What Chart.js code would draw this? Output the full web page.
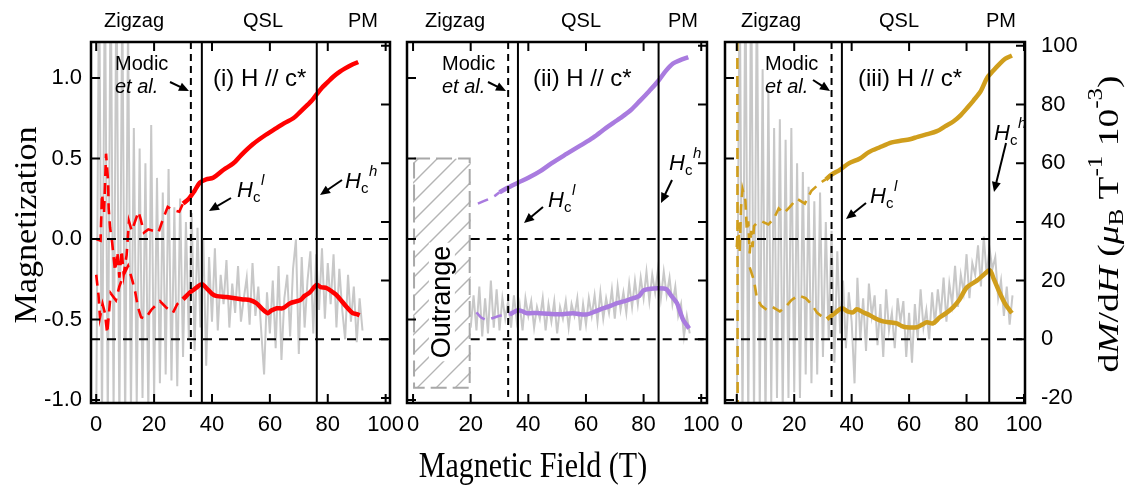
<!DOCTYPE html>
<html>
<head>
<meta charset="utf-8">
<script src="https://cdn.jsdelivr.net/npm/chart.js@4.4.0/dist/chart.umd.min.js"></script>
<style>
html, body { margin: 0; padding: 0; background: #fff; }
#wrap { position: relative; width: 1130px; height: 492px; }
#wrap canvas { position: absolute; left: 0; top: 0; }
</style>
</head>
<body>
<div id="wrap">
  <canvas id="chartP1" width="1130" height="492"></canvas>
  <canvas id="chartP2" width="1130" height="492"></canvas>
  <canvas id="chartP3" width="1130" height="492"></canvas>
</div>
<script>
// tick values
var fieldTicks = [0, 20, 40, 60, 80, 100];
var magTicks = [-1.0, -0.5, 0.0, 0.5, 1.0];
var dmdhTicks = [-20, 0, 20, 40, 60, 80, 100];

// vertical markers (T), one per panel
var modicField = [32.7, 33.0, 33.0];
var hcLowField = [36.5, 36.4, 36.6];
var hcHighField = [76.2, 85.2, 87.9];

// region labels
var regionNames = ["Zigzag", "QSL", "PM"];
var panelTags = ["(i) H // c*", "(ii) H // c*", "(iii) H // c*"];

// (i) red
var magLow1 = [[0, 0.0], [1.5, -0.01], [2, 0.28], [2.7, 0.16], [3.4, 0.53], [4.1, 0.36], [4.3, 0.19], [4.8, 0.07],
    [5.5, -0.02], [6.5, -0.2], [7.3, -0.08], [8, -0.24], [8.8, -0.07], [9.5, -0.22], [10.5, -0.1], [11.3, 0.11],
    [12.3, 0.05], [14.6, 0.17], [15.4, 0.12], [16.5, 0.04], [18, 0.06], [20, 0.05], [21.5, 0.04], [23, 0.12],
    [24.7, 0.2], [26.5, 0.18], [28.7, 0.17], [30, 0.22]];
var mag1 = [[30, 0.22], [32, 0.25], [34, 0.3], [35.8, 0.35], [38, 0.37], [40.4, 0.38], [44, 0.43], [47.4, 0.47],
    [50, 0.52], [54.2, 0.59], [58, 0.64], [62.4, 0.69], [65, 0.72], [68.1, 0.75], [70.5, 0.79], [72.8, 0.83],
    [74.5, 0.86], [76.2, 0.9], [78, 0.94], [79.7, 0.97], [82, 1.01], [84.2, 1.04], [86, 1.06], [88, 1.08], [90.5, 1.1]];
var dmdhLow1 = [[0, 22], [0.8, 15], [1.3, 7.5], [2.2, 12], [3, 9], [3.8, 2], [5, 15.7], [6.8, 13.3], [8, 18],
    [9.5, 22], [11, 25], [12.5, 20], [13.5, 16], [14.4, 11], [15.5, 7.5], [17, 7], [19, 10], [22, 13], [24, 11],
    [26.5, 9], [28, 12], [30, 13.6]];
var dmdh1 = [[30, 13.6], [32.4, 16], [34.5, 17.5], [36.5, 18.8], [38.5, 17], [40, 15.5], [41.7, 14.7], [45, 14.4],
    [50.7, 13.6], [53, 13.4], [55.4, 12.3], [57.5, 10.2], [59.3, 8.9], [60.5, 9.8], [62.4, 10.6], [64.5, 10.6],
    [67, 12.3], [70.4, 13.3], [72, 14.8], [73.8, 16], [76.2, 18.6], [77.5, 17.8], [79.7, 17.4], [81.5, 16.2],
    [83.1, 15], [85, 12.8], [86.6, 10.9], [88.6, 8.9], [90, 8.6], [91, 8.2]];
var dmdhRaw1 = [[0, -30], [1, 130], [2, -30], [3, 130], [4, -30], [5, 130], [6, -25], [7, 130], [8, -30], [9, 120],
    [10, -30], [11, 110], [12, -25], [13, 72], [14, -22], [15, 65], [16, -20], [17, 60], [18, -25], [19, 73],
    [20, -20], [21, 55], [22, -15], [23, 50], [24, -12], [25, 58], [26, -14], [27, 45], [28, -16], [29, 48],
    [30, -6], [31, 40], [32, 0], [33, 43], [34, -4], [35, 38], [36, 4], [37, 34], [38, -9], [39, 28],
    [40, 6], [41, 31], [42, 3], [43, 22], [44, 12], [45, 27], [46, 4], [47, 19], [48, 9], [49, 25],
    [50, 6], [51, 14], [52, 21], [53, 5], [54, 26], [55, 8], [56, 18], [57, 3], [58, -12], [59, 16],
    [60, 2], [61, 20], [62, -3], [63, 25], [64, -7], [65, 14], [66, 22], [67, 1], [68, 24], [69, 34],
    [70, -5], [71, 28], [72, 4], [73, 20], [74, 30], [75, 2], [76, 29], [77, 10], [78, 31], [79, 7],
    [80, 26], [81, 12], [82, 29], [83, 4], [84, 24], [85, 10], [86, 0], [87, 22], [88, 6], [89, 18],
    [90, -1], [91, 14], [92, 3]];

// (ii) purple
var magLow2 = [[22.5, 0.22], [24.5, 0.235], [26.5, 0.25], [28.5, 0.27], [30, 0.29]];
var mag2 = [[30, 0.29], [33, 0.32], [36.4, 0.35], [40, 0.38], [44, 0.42], [48, 0.47], [53.4, 0.53], [58, 0.58],
    [62.5, 0.63], [67, 0.69], [71.8, 0.75], [75.5, 0.8], [78.8, 0.86], [82, 0.92], [85, 0.98], [87.5, 1.04],
    [90.2, 1.09], [92.5, 1.11], [95.5, 1.13]];
var dmdhLow2 = [[22, 9.2], [23.5, 7.5], [25.5, 6.5], [27.5, 7.2], [30, 8], [33.5, 8.5]];
var dmdh2 = [[33.5, 8.5], [36.4, 9.9], [38, 9.5], [39.5, 8.9], [43, 9], [47, 8.7], [51, 8.5], [55.5, 8.9],
    [58, 8.5], [60.4, 8.5], [63, 9.4], [65, 10.2], [68, 11.2], [70.8, 12.3], [74, 13.2], [76.5, 14], [78.5, 14.8],
    [80, 16.7], [82.5, 17.2], [84.7, 17.4], [87, 17.3], [88, 17], [89.5, 15], [91.6, 12.3], [92.8, 9],
    [93.8, 6.5], [95.8, 3.7]];
var dmdhRaw2 = [[20, 4], [21, 15], [22, 3], [23, 18], [24, 1], [25, 14], [26, 2], [27, 20], [28, 4], [29, 17],
    [30, 3], [31, 14], [32, 7], [33, 13], [34, 4], [35, 15], [36, 6], [37, 12], [38, 3], [39, 14],
    [40, 8], [41, 13], [42, 4], [43, 11], [44, 7], [45, 14], [46, 3], [47, 12], [48, 6], [49, 13],
    [50, 2], [51, 11], [52, 7], [53, 13], [54, 4], [55, 12], [56, 8], [57, 14], [58, 3], [59, 12],
    [60, 5], [61, 14], [62, 8], [63, 15], [64, 6], [65, 16], [66, 7], [67, 14], [68, 9], [69, 17],
    [70, 7], [71, 18], [72, 10], [73, 16], [74, 9], [75, 19], [76, 11], [77, 20], [78, 12], [79, 21],
    [80, 14], [81, 23], [82, 13], [83, 22], [84, 16], [85, 24], [86, 14], [87, 23], [88, 15], [89, 21],
    [90, 12], [91, 18], [92, 8], [93, 12], [94, 1], [95, 8], [96, 2]];

// (iii) gold
var magLow3 = [[0, -0.05], [0.5, 0.1], [1, -0.08], [1.5, 0.2], [2, 0.31], [3, 0.24], [3.5, 0.05], [4, 0.11],
    [4.5, -0.09], [5, 0.05], [5.5, -0.05], [6, 0.08], [7, 0.1], [8.7, 0.11], [11, 0.09], [13, 0.13], [14.6, 0.19],
    [16.4, 0.16], [18.5, 0.2], [20.9, 0.25], [23.7, 0.22], [26, 0.3], [27.9, 0.33], [30, 0.36], [31, 0.37]];
var mag3 = [[31, 0.37], [33, 0.4], [35.9, 0.43], [39, 0.47], [42.9, 0.5], [46, 0.54], [49.8, 0.57], [54, 0.6],
    [57, 0.61], [60.3, 0.62], [63, 0.635], [66, 0.65], [69.7, 0.67], [72.5, 0.7], [75.4, 0.73], [78, 0.77],
    [80.5, 0.82], [82.4, 0.86], [85, 0.92], [87.1, 1.0], [89, 1.04], [91.6, 1.09], [93.5, 1.12], [95.8, 1.14]];
var dmdhLow3 = [[0.2, 102], [0.3, -22], [1, null], [4.5, 24.5], [6, 20], [7, 14], [8.5, 11.5], [10.5, 10],
    [12.5, 11], [15, 9.5], [17, 11], [19, 13.3], [21.5, 15], [24, 14], [26, 12], [28, 9], [30, 7.5], [31.4, 6.8]];
var dmdh3 = [[31.4, 6.8], [34, 8.8], [36.6, 10.6], [38.5, 9.5], [40.5, 9.2], [41.8, 10.2], [44, 9.2], [46.3, 8.2],
    [48.5, 7], [50.9, 6.1], [53, 5.8], [55.7, 5.4], [57.5, 4.5], [59.2, 4.1], [62.7, 4.1], [64.5, 5], [66.2, 5.8],
    [68.3, 5.4], [70.7, 7.5], [73, 9], [75.3, 10.9], [77.5, 13.5], [80.1, 17.7], [83.6, 20], [86, 22], [88.1, 23.5],
    [89.5, 20.5], [91.6, 15.7], [93.5, 12], [95.8, 8.9]];
var dmdhRaw3 = [[0, -30], [1, 130], [2, -30], [3, 130], [4, -30], [5, 130], [6, -28], [7, 125], [8, -25], [9, 92],
    [10, -30], [11, 85], [12, -22], [13, 72], [14, -20], [15, 75], [16, -25], [17, 68], [18, -20], [19, 72],
    [20, -18], [21, 60], [22, -20], [23, 57], [24, -12], [25, 52], [26, -15], [27, 47], [28, -12], [29, 50],
    [30, -6], [31, 40], [32, 0], [33, 37], [34, -8], [35, 30], [36, 2], [37, 20], [38, -3], [39, 16],
    [40, 6], [41, -15], [42, 21], [43, 0], [44, 14], [45, -4], [46, 19], [47, 8], [48, 15], [49, -2],
    [50, 12], [51, -6], [52, 17], [53, 3], [54, 9], [55, -3], [56, 14], [57, 6], [58, 13], [59, -6],
    [60, 9], [61, -8], [62, 12], [63, 0], [64, 17], [65, 4], [66, 10], [67, 0], [68, 16], [69, 5],
    [70, 17], [71, 8], [72, 21], [73, 6], [74, 19], [75, 12], [76, 25], [77, 11], [78, 22], [79, 16],
    [80, 29], [81, 14], [82, 26], [83, 22], [84, 32], [85, 18], [86, 35], [87, 22], [88, 31], [89, 24],
    [90, 28], [91, 14], [92, 20], [93, 8], [94, 18], [95, 5], [96, 15]];

// hatched "Outrange" block in panel (ii)
var outrangeField = [0, 20];
var outrangeMag = [-0.925, 0.5];

// page layout (pixels)
var PAGE_W = 1130, AREA_TOP = 42, AREA_BOTTOM = 403;
var SANS = '"Liberation Sans"', SERIF = '"Liberation Serif"';

var panels = [
    { id: "chartP1", color: "#ff0000", xMin: -1.8, xMax: 101.5, left: 91, right: 390, showMag: true, showDmdh: false,
      series: [magLow1, mag1, dmdhLow1, dmdh1, dmdhRaw1],
      regionX: [134, 263, 363], modic: [115, 170, 82, 189, 91], tagX: 213,
      hcl: [237, 197, 231, 198, 209, 211], hch: [345, 188, 342, 180, 320, 195] },
    { id: "chartP2", color: "#a97bdf", xMin: -2.1, xMax: 102, left: 407, right: 707, showMag: false, showDmdh: false,
      series: [magLow2, mag2, dmdhLow2, dmdh2, dmdhRaw2], refStart: 20,
      regionX: [455, 581, 683], modic: [442, 488, 82, 506, 91], tagX: 533,
      hcl: [548, 207, 543, 207, 524, 223], hch: [669, 170, 672, 180, 661, 203] },
    { id: "chartP3", color: "#d09e1c", xMin: -4.1, xMax: 100.35, left: 725, right: 1025, showMag: false, showDmdh: true,
      series: [magLow3, mag3, dmdhLow3, dmdh3, dmdhRaw3],
      regionX: [771, 899, 1001], modic: [765, 813, 80, 830, 91], tagX: 858,
      hcl: [870, 203, 866, 203, 846, 219], hch: [994, 140, 1006, 143, 994, 192] }
];

function toPoints(arr) {
    return arr.map(function (p) { return { x: p[0], y: p[1] }; });
}

function fixedTicks(list) {
    return function (scale) {
        scale.ticks = list.map(function (v) { return { value: v }; });
    };
}

function arrow(ctx, x1, y1, x2, y2) {
    var a = Math.atan2(y2 - y1, x2 - x1), h = 10, w = 4.5;
    var c = Math.cos(a), s = Math.sin(a);
    ctx.beginPath();
    ctx.moveTo(x1, y1);
    ctx.lineTo(x2 - h * 0.8 * c, y2 - h * 0.8 * s);
    ctx.stroke();
    ctx.beginPath();
    ctx.moveTo(x2, y2);
    ctx.lineTo(x2 - h * c + w * s, y2 - h * s - w * c);
    ctx.lineTo(x2 - h * c - w * s, y2 - h * s + w * c);
    ctx.closePath();
    ctx.fill();
}

function hcLabel(ctx, x, y, sup) {
    ctx.textAlign = "left";
    ctx.textBaseline = "alphabetic";
    ctx.font = "italic 22px " + SANS;
    ctx.fillText("H", x, y);
    var w = ctx.measureText("H").width;
    ctx.font = "15px " + SANS;
    ctx.fillText("c", x + w, y + 5);
    ctx.font = "italic 15px " + SANS;
    ctx.fillText(sup, x + w + 8, y - 12);
}

// rich text drawn along a rotated baseline, centred on (cx, cy)
function richText(ctx, parts, cx, cy, rot, stretch) {
    var total = 0;
    parts.forEach(function (p) { ctx.font = p.f; p.w = ctx.measureText(p.t).width; total += p.w; });
    ctx.save();
    ctx.translate(cx, cy);
    ctx.rotate(rot);
    ctx.scale(stretch, 1);
    ctx.textAlign = "left";
    ctx.textBaseline = "middle";
    var x = -total / 2;
    parts.forEach(function (p) {
        ctx.font = p.f;
        ctx.fillText(p.t, x, p.dy || 0);
        x += p.w;
    });
    ctx.restore();
}

var panelDecor = {
    id: "panelDecor",
    beforeDatasetsDraw: function (chart) {
        var p = chart.config.options.panel;
        if (p.index !== 1) return;
        var ctx = chart.ctx, sx = chart.scales.x, sy = chart.scales.y;
        var x0 = sx.getPixelForValue(outrangeField[0]), x1 = sx.getPixelForValue(outrangeField[1]);
        var y0 = sy.getPixelForValue(outrangeMag[1]), y1 = sy.getPixelForValue(outrangeMag[0]);
        ctx.save();
        ctx.beginPath();
        ctx.rect(x0, y0, x1 - x0, y1 - y0);
        ctx.clip();
        ctx.strokeStyle = "#b4b4b4";
        ctx.lineWidth = 1.4;
        for (var k = -300; k < 120; k += 19) {
            ctx.beginPath();
            ctx.moveTo(x0 + k, y1);
            ctx.lineTo(x0 + k + (y1 - y0), y0);
            ctx.stroke();
        }
        ctx.restore();
        ctx.save();
        ctx.strokeStyle = "#a8a8a8";
        ctx.lineWidth = 2;
        ctx.setLineDash([16, 6]);
        ctx.strokeRect(x0 + 1, y0, x1 - x0 - 2, y1 - y0);
        ctx.setLineDash([]);
        ctx.translate((x0 + x1) / 2, 302);
        ctx.rotate(-Math.PI / 2);
        ctx.font = "27px " + SANS;
        var tw = ctx.measureText("Outrange").width;
        ctx.fillStyle = "#fff";
        ctx.fillRect(-tw / 2 - 3, -13, tw + 6, 26);
        ctx.fillStyle = "#000";
        ctx.textAlign = "center";
        ctx.textBaseline = "middle";
        ctx.fillText("Outrange", 0, 1);
        ctx.restore();
    },
    afterDatasetsDraw: function (chart) {
        var p = chart.config.options.panel;
        var ctx = chart.ctx, a = chart.chartArea, sx = chart.scales.x;
        var i = p.index;
        ctx.save();
        ctx.strokeStyle = "#000";
        ctx.lineWidth = 2;
        ctx.setLineDash([9, 7]);
        var hx0 = p.refStart != null ? sx.getPixelForValue(p.refStart) : a.left;
        [chart.scales.y.getPixelForValue(0), chart.scales.y2.getPixelForValue(0)].forEach(function (yy) {
            ctx.beginPath(); ctx.moveTo(hx0, yy); ctx.lineTo(a.right, yy); ctx.stroke();
        });
        ctx.setLineDash([7, 5]);
        var xm = sx.getPixelForValue(modicField[i]);
        ctx.beginPath(); ctx.moveTo(xm, a.top); ctx.lineTo(xm, a.bottom); ctx.stroke();
        ctx.setLineDash([]);
        [hcLowField[i], hcHighField[i]].forEach(function (v) {
            var xx = sx.getPixelForValue(v);
            ctx.beginPath(); ctx.moveTo(xx, a.top); ctx.lineTo(xx, a.bottom); ctx.stroke();
        });
        ctx.restore();
    },
    afterDraw: function (chart) {
        var p = chart.config.options.panel;
        var ctx = chart.ctx, a = chart.chartArea;
        var sx = chart.scales.x, sy = chart.scales.y, sd = chart.scales.y2;
        ctx.save();
        // frame and inward ticks
        ctx.strokeStyle = "#000";
        ctx.fillStyle = "#000";
        ctx.lineWidth = 2.5;
        ctx.strokeRect(a.left, a.top, a.right - a.left, a.bottom - a.top);
        ctx.lineWidth = 2;
        var tl = 9;
        ctx.beginPath();
        fieldTicks.forEach(function (v) {
            var x = sx.getPixelForValue(v);
            ctx.moveTo(x, a.bottom); ctx.lineTo(x, a.bottom - tl);
            ctx.moveTo(x, a.top); ctx.lineTo(x, a.top + tl);
        });
        magTicks.forEach(function (v) {
            var y = sy.getPixelForValue(v);
            ctx.moveTo(a.left, y); ctx.lineTo(a.left + tl, y);
        });
        dmdhTicks.forEach(function (v) {
            var y = sd.getPixelForValue(v);
            ctx.moveTo(a.right, y); ctx.lineTo(a.right - tl, y);
        });
        ctx.stroke();

        // region names
        ctx.font = "20px " + SANS;
        ctx.textAlign = "center";
        ctx.textBaseline = "alphabetic";
        regionNames.forEach(function (t, k) { ctx.fillText(t, p.regionX[k], 27); });

        // Modic et al.
        var m = p.modic;
        ctx.textAlign = "left";
        ctx.font = "20px " + SANS;
        ctx.fillText("Modic", m[0], 70);
        ctx.font = "italic 20px " + SANS;
        ctx.fillText("et al.", m[0], 93);
        ctx.lineWidth = 2;
        arrow(ctx, m[1], m[2], m[3], m[4]);

        // panel tag
        ctx.font = "24px " + SANS;
        ctx.fillText(panelTags[p.index], p.tagX, 86);

        // critical field labels
        hcLabel(ctx, p.hcl[0], p.hcl[1], "l");
        arrow(ctx, p.hcl[2], p.hcl[3], p.hcl[4], p.hcl[5]);
        hcLabel(ctx, p.hch[0], p.hch[1], "h");
        arrow(ctx, p.hch[2], p.hch[3], p.hch[4], p.hch[5]);

        // axis titles
        if (p.index === 0) {
            richText(ctx, [{ t: "Magnetization", f: "31px " + SERIF }], 28, 225, -Math.PI / 2, 1.1);
        }
        if (p.index === 1) {
            ctx.save();
            ctx.translate(533, 468);
            ctx.scale(1, 1.2);
            ctx.font = "30px " + SERIF;
            ctx.textAlign = "center";
            ctx.textBaseline = "middle";
            ctx.fillText("Magnetic Field (T)", 0, 0);
            ctx.restore();
        }
        if (p.index === 2) {
            var f = "30px " + SERIF, fi = "italic 30px " + SERIF, fs = "20px " + SERIF;
            richText(ctx, [
                { t: "d", f: f }, { t: "M", f: fi }, { t: "/d", f: f }, { t: "H", f: fi }, { t: " (", f: f },
                { t: "\u03bc", f: fi }, { t: "B", f: fs, dy: 8 }, { t: " T", f: f }, { t: "-1", f: fs, dy: -13 },
                { t: " 10", f: f }, { t: "-3", f: fs, dy: -13 }, { t: ")", f: f }
            ], 1110, 224, -Math.PI / 2, 1.25);
        }
        ctx.restore();
    }
};

panels.forEach(function (p, idx) {
    p.index = idx;
    var s = p.series;
    var tickFont = { family: "Liberation Sans", size: 22 };
    new Chart(document.getElementById(p.id).getContext("2d"), {
        type: "line",
        data: {
            datasets: [
                { data: toPoints(s[1]), yAxisID: "y", borderColor: p.color, borderWidth: 4.5, tension: 0.3 },
                { data: toPoints(s[3]), yAxisID: "y2", borderColor: p.color, borderWidth: 4.5, tension: 0.3 },
                { data: toPoints(s[0]), yAxisID: "y", borderColor: p.color, borderWidth: 2.6, borderDash: [11, 7] },
                { data: toPoints(s[2]), yAxisID: "y2", borderColor: p.color, borderWidth: 2.6, borderDash: [11, 7] },
                { data: toPoints(s[4]), yAxisID: "y2", borderColor: "#c8c8c8", borderWidth: 2 }
            ]
        },
        options: {
            panel: p,
            responsive: false,
            animation: false,
            events: [],
            layout: { padding: 0 },
            elements: { point: { radius: 0 }, line: { fill: false } },
            plugins: { legend: { display: false }, tooltip: { enabled: false } },
            scales: {
                x: {
                    type: "linear", position: "bottom", min: p.xMin, max: p.xMax,
                    afterBuildTicks: fixedTicks(fieldTicks),
                    afterFit: function (sc) { sc.height = 492 - AREA_BOTTOM; },
                    grid: { display: false, drawTicks: false }, border: { display: false },
                    ticks: { font: tickFont, color: "#000", padding: 9, maxRotation: 0, autoSkip: false }
                },
                xTop: {
                    type: "linear", position: "top", min: p.xMin, max: p.xMax,
                    afterFit: function (sc) { sc.height = AREA_TOP; },
                    grid: { display: false, drawTicks: false }, border: { display: false },
                    ticks: { display: false }
                },
                y: {
                    type: "linear", position: "left", min: -1.019, max: 1.224,
                    afterBuildTicks: fixedTicks(magTicks),
                    afterFit: function (sc) { sc.width = p.left; },
                    grid: { display: false, drawTicks: false }, border: { display: false },
                    ticks: { display: p.showMag, font: tickFont, color: "#000", padding: 9,
                             callback: function (v) { return v.toFixed(1); } }
                },
                y2: {
                    type: "linear", position: "right", min: -21.7, max: 101.3,
                    afterBuildTicks: fixedTicks(dmdhTicks),
                    afterFit: function (sc) { sc.width = PAGE_W - p.right; },
                    grid: { display: false, drawTicks: false }, border: { display: false },
                    ticks: { display: p.showDmdh, font: tickFont, color: "#000", padding: 16 }
                }
            }
        },
        plugins: [panelDecor]
    });
});
</script>
</body>
</html>
